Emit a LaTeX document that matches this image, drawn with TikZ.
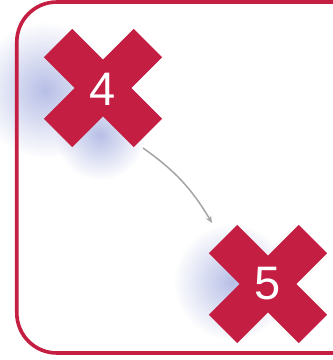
\documentclass[tikz,border=0pt]{standalone}
\usepackage{fontspec}
\setmainfont{Liberation Sans}
\usetikzlibrary{arrows.meta,fadings}
\definecolor{crossred}{RGB}{196,30,66}
\definecolor{cloudblue}{RGB}{176,184,228}
\definecolor{arrowgray}{RGB}{165,165,165}
\tikzfading[name=softout, inner color=transparent!0, outer color=transparent!100]
\tikzset{
  xshape/.pic={
      \fill[crossred]
        (0,28.28) -- (30.76,59.04) -- (59.04,30.76) -- (28.28,0)
        -- (59.04,-30.76) -- (30.76,-59.04) -- (0,-28.28)
        -- (-30.76,-59.04) -- (-59.04,-30.76) -- (-28.28,0)
        -- (-59.04,30.76) -- (-30.76,59.04) -- cycle;},
  num/.style={inner sep=0pt, text=white, font=\fontsize{47}{47}\selectfont},
  cloud/.style={fill=cloudblue, path fading=softout, opacity=0.9},
  frameline/.style={draw=crossred, line width=3.6pt, rounded corners=40pt},
  flow/.style={draw=arrowgray, line width=1.5pt, -{Stealth[length=7pt,width=6pt]}}
}
\begin{document}
\begin{tikzpicture}[x=1pt,y=1pt]
\useasboundingbox (0,0) rectangle (333,360);
\fill[white] (0,0) rectangle (333,360);
% clouds
\fill[cloud] (45,270) circle (68);
\fill[cloud] (100,225) circle (45);
\fill[cloud] (232,78) circle (58);
% frame
\draw[frameline] (345,358) -- (16.8,358) -- (16.8,7) -- (345,7);
% marks
\pic at (103,272) {xshape};
\node[num] (m4) at (103,271) {4};
\pic at (268,76) {xshape};
\node[num] (m5) at (268,76) {5};
\coordinate (a1) at (143,212);
\coordinate (a2) at (212,137);
\draw[flow] (a1) to[bend left=12] (a2);
\end{tikzpicture}
\end{document}
